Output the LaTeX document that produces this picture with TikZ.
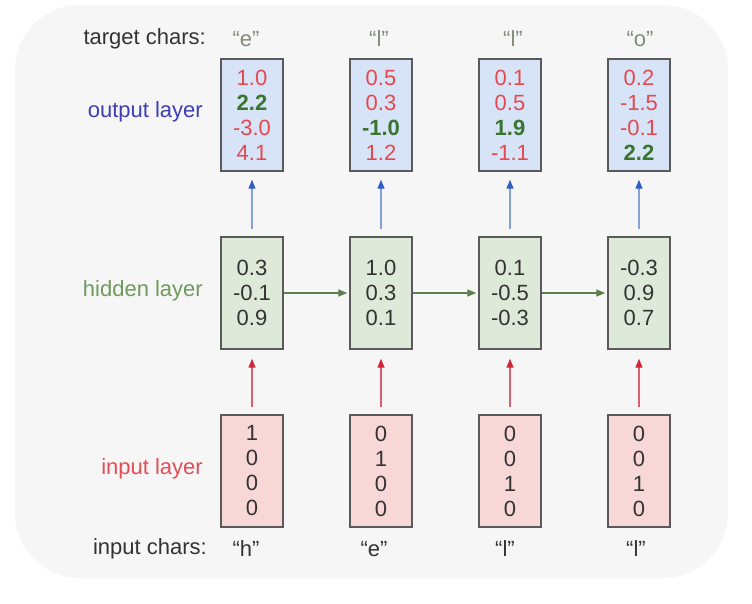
\documentclass[tikz,border=0pt]{standalone}
\usepackage{fontspec}
\setmainfont{Liberation Sans}
\usetikzlibrary{arrows.meta}
\definecolor{bgc}{HTML}{F6F6F6}
\definecolor{outfill}{HTML}{D7E3F6}
\definecolor{hidfill}{HTML}{DEE9D9}
\definecolor{infill}{HTML}{F8D8D7}
\definecolor{boxline}{HTML}{5A5A5A}
\definecolor{numred}{HTML}{E5484F}
\definecolor{numgreen}{HTML}{3A7530}
\definecolor{numdark}{HTML}{333333}
\definecolor{lblblue}{HTML}{3D3DB5}
\definecolor{lblgreen}{HTML}{6E9A5E}
\definecolor{lblred}{HTML}{E24E57}
\definecolor{tgtgray}{HTML}{7F8C78}
\definecolor{arrblue}{HTML}{86A0D8}
\definecolor{headblue}{HTML}{2F5FC0}
\definecolor{arrred}{HTML}{D86070}
\definecolor{headred}{HTML}{D0283A}
\definecolor{arrgreen}{HTML}{5E7E50}
\newcommand{\R}[1]{\textcolor{numred}{#1}}
\newcommand{\G}[1]{\textcolor{numgreen}{\bfseries #1}}
\begin{document}
\begin{tikzpicture}[x=1pt,y=-1pt,
  font=\fontsize{22}{25}\selectfont,
  vecbox/.style={draw=boxline, line width=1.4pt, minimum width=62pt, minimum height=112pt,
    inner sep=0pt, align=center, text=numdark},
  outbox/.style={vecbox, fill=outfill},
  hidbox/.style={vecbox, fill=hidfill},
  inbox/.style={vecbox, fill=infill},
  lbl/.style={anchor=east, inner sep=0pt},
  chr/.style={inner sep=0pt},
  uparrb/.style={draw=arrblue, line width=1.3pt, -{Triangle[length=9pt,width=7pt,fill=headblue,color=headblue]}, shorten <=7pt, shorten >=8pt},
  uparrr/.style={draw=arrred, line width=1.3pt, -{Triangle[length=9pt,width=7pt,fill=headred,color=headred]}, shorten <=7pt, shorten >=9pt},
  recarr/.style={draw=arrgreen, line width=1.3pt, -{Triangle[length=9pt,width=7pt]}, shorten >=2pt}
]
\useasboundingbox (0,0) rectangle (752,604);
\fill[white] (0,0) rectangle (752,604);
\fill[bgc, rounded corners=65pt] (15,5) rectangle (728,578);

% output boxes
\node[outbox] (o1) at (252,115) {\R{1.0}\\\G{2.2}\\\R{-3.0}\\\R{4.1}};
\node[outbox] (o2) at (381,115) {\R{0.5}\\\R{0.3}\\\G{-1.0}\\\R{1.2}};
\node[outbox] (o3) at (510,115) {\R{0.1}\\\R{0.5}\\\G{1.9}\\\R{-1.1}};
\node[outbox] (o4) at (639,115) {\R{0.2}\\\R{-1.5}\\\R{-0.1}\\\G{2.2}};

% hidden boxes
\node[hidbox] (h1) at (252,293) {0.3\\-0.1\\0.9};
\node[hidbox] (h2) at (381,293) {1.0\\0.3\\0.1};
\node[hidbox] (h3) at (510,293) {0.1\\-0.5\\-0.3};
\node[hidbox] (h4) at (639,293) {-0.3\\0.9\\0.7};

% input boxes
\node[inbox] (i1) at (252,471) {1\\0\\0\\0};
\node[inbox] (i2) at (381,471) {0\\1\\0\\0};
\node[inbox] (i3) at (510,471) {0\\0\\1\\0};
\node[inbox] (i4) at (639,471) {0\\0\\1\\0};

% labels
\node[lbl, text=numdark] (tl) at (206,39) {target chars:};
\node[lbl, text=lblblue] (ol) at (203,112) {output layer};
\node[lbl, text=lblgreen] (hl) at (203,291) {hidden layer};
\node[lbl, text=lblred] (il) at (203,469) {input layer};
\node[lbl, text=numdark] (cl) at (207,549) {input chars:};

% target chars
\node[chr, text=tgtgray] (t1) at (246,39) {“e”};
\node[chr, text=tgtgray] (t2) at (379,39) {“l”};
\node[chr, text=tgtgray] (t3) at (513,39) {“l”};
\node[chr, text=tgtgray] (t4) at (640,39) {“o”};

% input chars
\node[chr, text=numdark] (c1) at (246,549) {“h”};
\node[chr, text=numdark] (c2) at (374,549) {“e”};
\node[chr, text=numdark] (c3) at (505,549) {“l”};
\node[chr, text=numdark] (c4) at (636,549) {“l”};

% arrows
\foreach \k in {1,2,3,4} {
  \draw[uparrb] (h\k.north) -- (o\k.south);
  \draw[uparrr] (i\k.north) -- (h\k.south);
}
\draw[recarr] (h1.east) -- (h2.west);
\draw[recarr] (h2.east) -- (h3.west);
\draw[recarr] (h3.east) -- (h4.west);
\end{tikzpicture}
\end{document}
